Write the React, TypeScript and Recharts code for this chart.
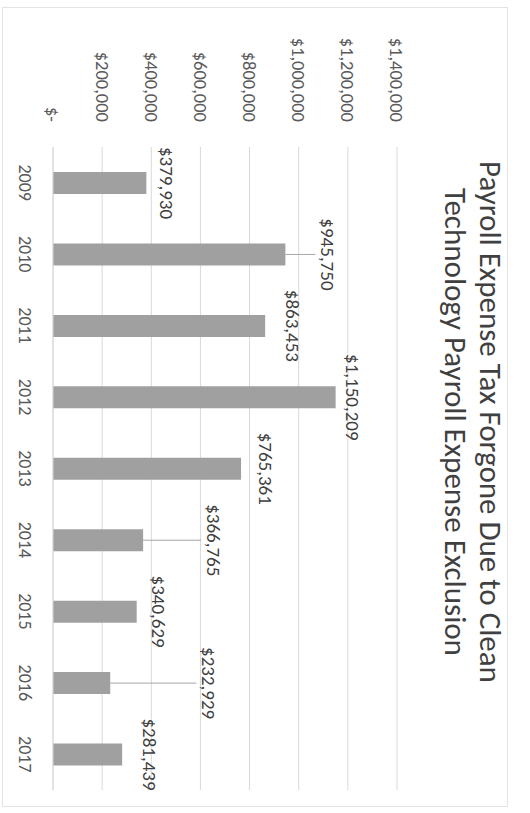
import { Bar, BarChart, CartesianGrid, LabelList, XAxis, YAxis } from "recharts";

// Payroll expense tax forgone, by year
const years = ["2009", "2010", "2011", "2012", "2013", "2014", "2015", "2016", "2017"];
const forgone = [379930, 945750, 863453, 1150209, 765361, 366765, 340629, 232929, 281439];
const valueTicks = [0, 200000, 400000, 600000, 800000, 1000000, 1200000, 1400000];

// how far each data label sits above its bar (the labels were dragged by hand in the original)
const labelLift = [20, 42, 27, 17, 24, 70, 22, 98, 27];

const data = years.map((year, i) => ({ year, forgone: forgone[i] }));

const FONT = "Carlito, Calibri, 'Liberation Sans', Arial, sans-serif";
const W = 813;
const H = 530;

function money(v: number) {
  return v === 0 ? "$-" : "$" + v.toLocaleString("en-US");
}

function ValueLabel(props: any) {
  const { x, y, width, value, index } = props;
  const lift = labelLift[index] ?? 20;
  const cx = Number(x) + Number(width) / 2;
  const ty = Number(y) - lift;
  return (
    <g>
      {lift > 35 && (
        <line x1={cx} x2={cx} y1={Number(y)} y2={ty + 12} stroke="#a6a6a6" strokeWidth={1} />
      )}
      <text
        x={cx}
        y={ty}
        textAnchor="middle"
        dominantBaseline="central"
        fill="#404040"
        fontSize={19}
        fontFamily={FONT}
      >
        {money(Number(value))}
      </text>
    </g>
  );
}

export default function App() {
  // the scanned chart is lying on its side, so draw it landscape and turn it 90deg clockwise
  return (
    <div
      style={{
        position: "absolute",
        left: 0,
        top: 0,
        width: W,
        height: H,
        background: "#fff",
        transform: `translate(${H}px, 0) rotate(90deg)`,
        transformOrigin: "0 0",
        fontFamily: FONT,
      }}
    >
      <div
        style={{
          position: "absolute",
          left: 7,
          top: 22,
          width: 800,
          height: 506,
          border: "1px solid #e3e3e3",
          boxSizing: "border-box",
        }}
      />
      <div
        style={{
          position: "absolute",
          left: 0,
          top: 22,
          width: 844,
          textAlign: "center",
          color: "#404040",
          fontSize: 31,
          lineHeight: "35px",
          whiteSpace: "nowrap",
        }}
      >
        Payroll Expense Tax Forgone Due to Clean
        <br />
        Technology Payroll Expense Exclusion
      </div>
      <BarChart
        width={W}
        height={H}
        data={data}
        margin={{ top: 133, right: 23, bottom: 13, left: 0 }}
        style={{ position: "absolute", left: 0, top: 0 }}
      >
        <CartesianGrid vertical={false} stroke="#d9d9d9" />
        <XAxis
          dataKey="year"
          height={40}
          tickLine={false}
          tickSize={0}
          tickMargin={21}
          axisLine={{ stroke: "#d9d9d9" }}
          tick={{ fill: "#595959", fontSize: 18, fontFamily: FONT }}
        />
        <YAxis
          width={147}
          domain={[0, 1400000]}
          ticks={valueTicks}
          tickFormatter={money}
          axisLine={false}
          tickLine={false}
          tickSize={0}
          tickMargin={25}
          tick={{ fill: "#595959", fontSize: 18.5, fontFamily: FONT }}
        />
        <Bar dataKey="forgone" fill="#a0a0a0" barSize={22} isAnimationActive={false}>
          <LabelList dataKey="forgone" content={<ValueLabel />} />
        </Bar>
      </BarChart>
    </div>
  );
}
